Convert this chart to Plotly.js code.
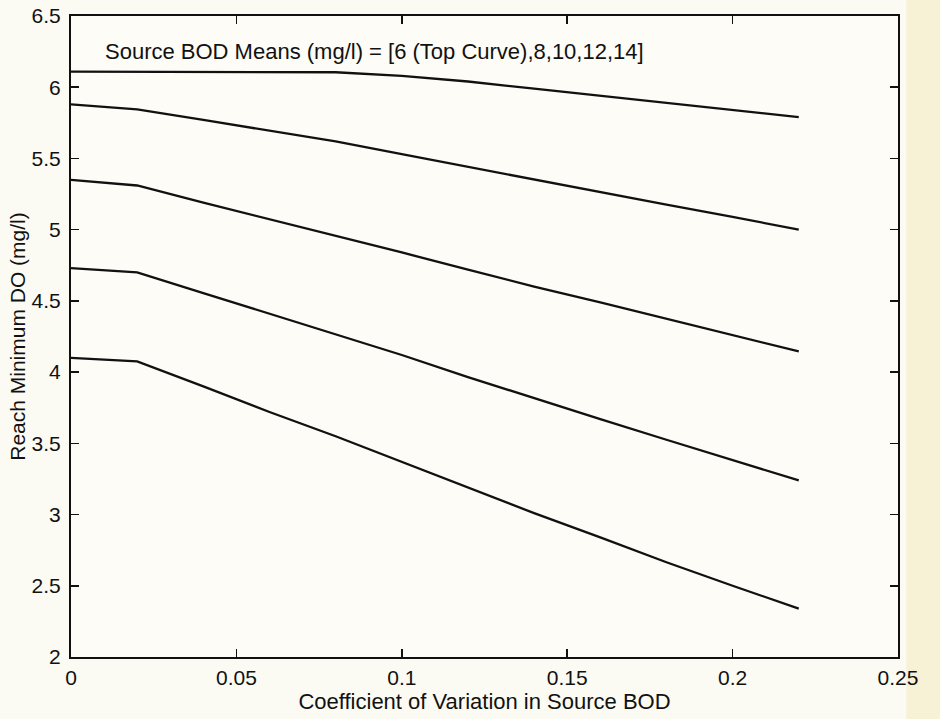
<!DOCTYPE html>
<html>
<head>
<meta charset="utf-8">
<script src="https://cdn.plot.ly/plotly-3.0.1.min.js"></script>
<style>
  html, body { margin: 0; padding: 0; background: #fcfbf3; }
  #chart { width: 940px; height: 719px; }
</style>
</head>
<body>
<div id="chart"></div>
<script>
// Coefficient of variation in source BOD (x)
const cv = [0, 0.02, 0.04, 0.06, 0.08, 0.10, 0.12, 0.14, 0.16, 0.18, 0.20, 0.22];

// Reach minimum DO (mg/l) for source BOD means 6, 8, 10, 12, 14
const bod6  = [6.11, 6.11, 6.11, 6.11, 6.105, 6.08, 6.04, 5.99, 5.94, 5.89, 5.84, 5.79];
const bod8  = [5.88, 5.845, 5.77, 5.695, 5.62, 5.53, 5.44, 5.35, 5.26, 5.175, 5.09, 5.00];
const bod10 = [5.35, 5.31, 5.19, 5.075, 4.96, 4.84, 4.72, 4.60, 4.49, 4.375, 4.26, 4.145];
const bod12 = [4.73, 4.70, 4.555, 4.41, 4.265, 4.12, 3.965, 3.815, 3.67, 3.525, 3.38, 3.24];
const bod14 = [4.10, 4.075, 3.90, 3.72, 3.55, 3.37, 3.19, 3.01, 2.84, 2.665, 2.50, 2.34];

const seriesNames = ['6', '8', '10', '12', '14'];
const seriesValues = [bod6, bod8, bod10, bod12, bod14];

// Axis ticks
const xTickVals = [0, 0.05, 0.1, 0.15, 0.2, 0.25];
const xTickText = ['0', '0.05', '0.1', '0.15', '0.2', '0.25'];
const yTickVals = [2, 2.5, 3, 3.5, 4, 4.5, 5, 5.5, 6, 6.5];
const yTickText = ['2', '2.5', '3', '3.5', '4', '4.5', '5', '5.5', '6', '6.5'];

const fontFam = 'Liberation Sans, Arial, Helvetica, sans-serif';
const ink = '#111111';

const traces = seriesValues.map((vals, i) => ({
  x: cv,
  y: vals,
  type: 'scatter',
  mode: 'lines',
  name: seriesNames[i],
  line: { color: ink, width: 2.3 },
  hoverinfo: 'x+y'
}));

const axisCommon = {
  showgrid: false,
  zeroline: false,
  showline: true,
  linecolor: ink,
  linewidth: 2,
  mirror: 'ticks',
  ticks: 'inside',
  ticklen: 8,
  tickwidth: 1.5,
  tickcolor: ink,
  tickfont: { family: fontFam, size: 21, color: ink }
};

const layout = {
  width: 940,
  height: 719,
  margin: { l: 71, r: 42, t: 16, b: 62, pad: 0 },
  paper_bgcolor: '#fcfbf3',
  plot_bgcolor: '#fdfcf6',
  showlegend: false,
  xaxis: Object.assign({}, axisCommon, {
    range: [0, 0.25],
    tickmode: 'array',
    tickvals: xTickVals,
    ticktext: xTickText,
    ticklabelstandoff: 1,
    title: { text: 'Coefficient of Variation in Source BOD', font: { family: fontFam, size: 22, color: ink }, standoff: 3 }
  }),
  yaxis: Object.assign({}, axisCommon, {
    range: [2, 6.5],
    tickmode: 'array',
    tickvals: yTickVals,
    ticktext: yTickText,
    ticklabelstandoff: 4,
    title: { text: 'Reach Minimum DO (mg/l)', font: { family: fontFam, size: 21, color: ink }, standoff: 0 }
  }),
  shapes: [{
    type: 'rect', xref: 'paper', yref: 'paper',
    x0: 1.01, x1: 1.06, y0: -0.1, y1: 1.03,
    fillcolor: '#f7f1d6', line: { width: 0 }, layer: 'below'
  }],
  annotations: [{
    text: 'Source BOD Means (mg/l) = [6 (Top Curve),8,10,12,14]',
    xref: 'paper', yref: 'paper',
    x: 0.0387, y: 0.944,
    xanchor: 'left', yanchor: 'middle',
    showarrow: false,
    font: { family: fontFam, size: 22, color: ink }
  }]
};

Plotly.newPlot('chart', traces, layout, { displayModeBar: false, staticPlot: true });
</script>
</body>
</html>
